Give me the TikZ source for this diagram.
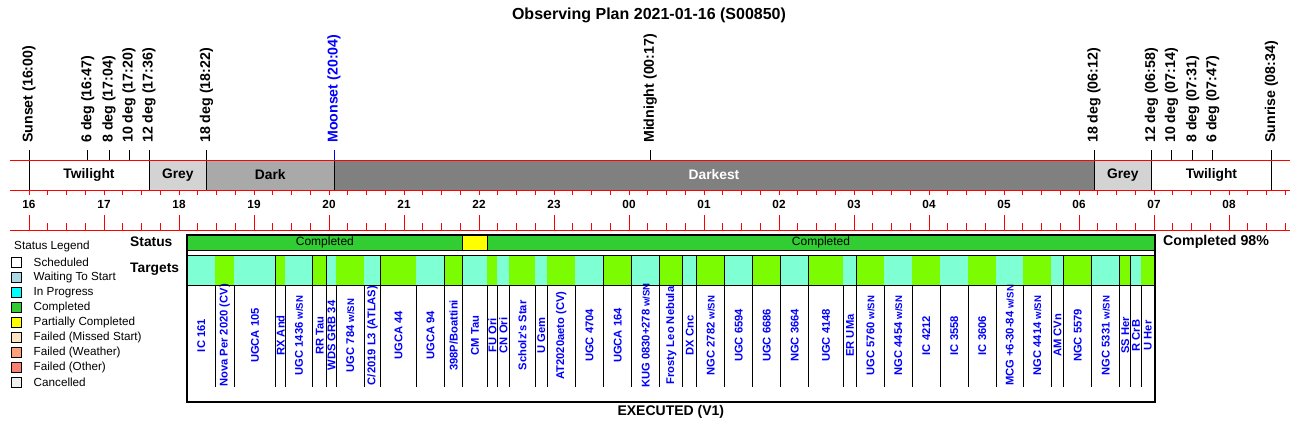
\documentclass[tikz,border=0pt]{standalone}
\usepackage{fontspec}
\setmainfont{Liberation Sans}
\definecolor{aq}{HTML}{7FFFD4}
\definecolor{lg}{HTML}{7CFC00}
\definecolor{limeg}{HTML}{32CD32}
\definecolor{greyband}{HTML}{D3D3D3}
\definecolor{darkband}{HTML}{A9A9A9}
\definecolor{darkestband}{HTML}{808080}
\definecolor{waitblue}{HTML}{ADD8E6}
\definecolor{inprog}{HTML}{00FFFF}
\definecolor{partial}{HTML}{FFFF00}
\definecolor{missed}{HTML}{FFE4C4}
\definecolor{weather}{HTML}{FFA07A}
\definecolor{otherf}{HTML}{FA8072}
\definecolor{cancel}{HTML}{F0F0F0}
\definecolor{blu}{HTML}{0000FF}
\definecolor{axisred}{HTML}{FF0000}
\newcommand\fsz[1]{\fontsize{#1}{#1}\selectfont}
\newcommand\wsn{{\fontsize{9.6}{9.6}\selectfont w/SN}}
% target column: name, x1, x2, colour, label
\newcommand\tgt[5]{%
  \fill[#4] (#2,255) rectangle (#3,285);
  \coordinate (#1sa) at (#3,255);
  \coordinate (#1sb) at (#3,386.7);
  \draw[sepline] (#1sa) -- (#1sb);
  \node[tlabel] (#1) at ({(#2+#3)/2},335.5) {#5};
}
% event: name, x, label, colour, lower end
\newcommand\evt[5]{%
  \coordinate (#1top) at (#2,150);
  \coordinate (#1bot) at (#2,#5);
  \draw[#4, line width=1pt] (#1top) -- (#1bot);
  \node[evlabel, text=#4] (#1) at (#2,143) {#3};
}
\begin{document}
\begin{tikzpicture}[x=1pt,y=-1pt,
  evlabel/.style={rotate=90, anchor=west, inner sep=0pt, font=\bfseries\fsz{14.2}},
  bandlabel/.style={inner sep=0pt, font=\bfseries\fsz{13.8}},
  hourlabel/.style={inner sep=0pt, font=\bfseries\fsz{11.8}},
  tlabel/.style={rotate=90, inner sep=0pt, text=blu, font=\bfseries\fsz{11.2}},
  sepline/.style={black, line width=1pt},
  redline/.style={axisred, line width=1pt},
  legbox/.style={draw=black, line width=0.6pt, minimum width=10.5pt, minimum height=10.5pt, inner sep=0pt},
  legtext/.style={anchor=west, inner sep=0pt, font=\fsz{11.7}},
]
\useasboundingbox (0,0) rectangle (1300,432);
\fill[white] (0,0) rectangle (1300,432);

% title
\node[inner sep=0pt, font=\bfseries\fsz{16}] (title) at (649,15) {Observing Plan 2021-01-16 (S00850)};

% night bands
\fill[greyband] (149,160) rectangle (206.5,190);
\fill[darkband] (206.5,160) rectangle (334,190);
\fill[darkestband] (334,160) rectangle (1094,190);
\fill[greyband] (1094,160) rectangle (1151.5,190);
\node[bandlabel] (tw1) at (89,175) {Twilight};
\node[bandlabel] (gr1) at (177.75,175) {Grey};
\node[bandlabel] (dk) at (270.25,175) {Dark};
\node[bandlabel, text=white] (dkst) at (714,175) {Darkest};
\node[bandlabel] (gr2) at (1122.75,175) {Grey};
\node[bandlabel] (tw2) at (1211.5,175) {Twilight};

% events
\evt{sunset}{29}{Sunset (16:00)}{black}{190}
\evt{esix}{87.75}{6 deg (16:47)}{black}{160}
\evt{eeight}{109}{8 deg (17:04)}{black}{160}
\evt{eten}{129}{10 deg (17:20)}{black}{160}
\evt{etwelve}{149}{12 deg (17:36)}{black}{190}
\evt{eeighteen}{206.5}{18 deg (18:22)}{black}{190}
\evt{moonset}{334}{Moonset (20:04)}{blu}{160}
\coordinate (moonA) at (334,160);
\coordinate (moonB) at (334,190);
\draw[black, line width=1pt] (moonA) -- (moonB);
\evt{midnight}{650.25}{Midnight (00:17)}{black}{160}
\evt{meighteen}{1094}{18 deg (06:12)}{black}{190}
\evt{mtwelve}{1151.5}{12 deg (06:58)}{black}{190}
\evt{mten}{1171.5}{10 deg (07:14)}{black}{160}
\evt{meight}{1192.75}{8 deg (07:31)}{black}{160}
\evt{msix}{1212.75}{6 deg (07:47)}{black}{160}
\evt{sunrise}{1271.5}{Sunrise (08:34)}{black}{190}

% red axes
\coordinate (ra1) at (10,160); \coordinate (rb1) at (1290,160);
\coordinate (ra2) at (10,190); \coordinate (rb2) at (1290,190);
\coordinate (ra3) at (10,230); \coordinate (rb3) at (1290,230);
\draw[redline] (ra1) -- (rb1);
\draw[redline] (ra2) -- (rb2);
\draw[redline] (ra3) -- (rb3);
\foreach \q in {0,...,67}{
  \draw[redline] ({29+18.75*\q},190) -- ({29+18.75*\q},195);
  \draw[redline] ({29+18.75*\q},223.3) -- ({29+18.75*\q},230);
}
\foreach \i/\l in {0/16,1/17,2/18,3/19,4/20,5/21,6/22,7/23,8/00,9/01,10/02,11/03,12/04,13/05,14/06,15/07,16/08}{
  \node[hourlabel] (h\i) at ({29+75*\i},204.5) {\l};
  \draw[redline] ({29+75*\i},215) -- ({29+75*\i},230);
}

% legend
\node[anchor=west, inner sep=0pt, font=\fsz{11.7}] (legtitle) at (14,246) {Status Legend};
\foreach \c/\t [count=\k from 0] in {white/Scheduled, waitblue/Waiting To Start, inprog/In Progress, limeg/Completed, partial/Partially Completed, missed/Failed (Missed Start), weather/Failed (Weather), otherf/Failed (Other), cancel/Cancelled}{
  \node[legbox, fill=\c] (lb\k) at (16.3,{262.5+15*\k}) {};
  \node[legtext] (lt\k) at (33.5,{262.5+15*\k}) {\t};
}

% row captions
\node[anchor=west, inner sep=0pt, font=\bfseries\fsz{13.8}] (statuscap) at (130,241.5) {Status};
\node[anchor=west, inner sep=0pt, font=\bfseries\fsz{13.8}] (targetcap) at (130,269.5) {Targets};
\node[anchor=west, inner sep=0pt, font=\bfseries\fsz{14.2}] (pct) at (1163,241.5) {Completed 98\%};

% status bar
\fill[limeg] (187,235) rectangle (462.7,250.7);
\fill[partial] (462.7,235) rectangle (487.3,250.7);
\fill[limeg] (487.3,235) rectangle (1155,250.7);
\coordinate (sba) at (462.7,235); \coordinate (sbb) at (462.7,250.7);
\coordinate (sbc) at (487.3,235); \coordinate (sbd) at (487.3,250.7);
\draw[black, line width=1pt] (sba) -- (sbb);
\draw[black, line width=1pt] (sbc) -- (sbd);
\coordinate (sbl) at (187,250.7); \coordinate (sbr) at (1155,250.7);
\draw[black, line width=1.2pt] (sbl) -- (sbr);
\node[inner sep=0pt, font=\fsz{12}] (st1) at (324.9,242.8) {Completed};
\node[inner sep=0pt, font=\fsz{12}] (st2) at (821,242.8) {Completed};

% targets
\tgt{t1}{187.3}{215.3}{aq}{IC 161}
\tgt{t2}{215.3}{234.3}{lg}{Nova Per 2020 (CV)}
\tgt{t3}{234.3}{275.7}{aq}{UGCA 105}
\tgt{t4}{275.7}{285.3}{lg}{RX And}
\tgt{t5}{285.3}{312.7}{aq}{UGC 1436 \wsn}
\tgt{t6}{312.7}{326.7}{lg}{RR Tau}
\tgt{t7}{326.7}{336.3}{aq}{WDS GRB 34}
\tgt{t8}{336.3}{364.3}{lg}{UGC 784 \wsn}
\tgt{t9}{364.3}{380.7}{aq}{C/2019 L3 (ATLAS)}
\tgt{t10}{380.7}{416.3}{lg}{UGCA 44}
\tgt{t11}{416.3}{444.7}{aq}{UGCA 94}
\tgt{t12}{444.7}{462.7}{lg}{398P/Boattini}
\tgt{t13}{462.7}{487.3}{aq}{CM Tau}
\tgt{t14}{487.3}{497.3}{lg}{FU Ori}
\tgt{t15}{497.3}{509.3}{aq}{CN Ori}
\tgt{t16}{509.3}{535.3}{lg}{Scholz\textquotesingle s Star}
\tgt{t17}{535.3}{547.3}{aq}{U Gem}
\tgt{t18}{547.3}{575.3}{lg}{AT2020aeto (CV)}
\tgt{t19}{575.3}{603.7}{aq}{UGC 4704}
\tgt{t20}{603.7}{631.7}{lg}{UGCA 164}
\tgt{t21}{631.7}{659.7}{aq}{KUG 0830+278 \wsn}
\tgt{t22}{659.7}{682.7}{lg}{Frosty Leo Nebula}
\tgt{t23}{682.7}{696.7}{aq}{DX Cnc}
\tgt{t24}{696.7}{724.7}{lg}{NGC 2782 \wsn}
\tgt{t25}{724.7}{752.7}{aq}{UGC 6594}
\tgt{t26}{752.7}{780.7}{lg}{UGC 6686}
\tgt{t27}{780.7}{808.7}{aq}{NGC 3664}
\tgt{t28}{808.7}{843.3}{lg}{UGC 4148}
\tgt{t29}{843.3}{856.7}{aq}{ER UMa}
\tgt{t30}{856.7}{884.3}{lg}{UGC 5760 \wsn}
\tgt{t31}{884.3}{912.3}{aq}{NGC 4454 \wsn}
\tgt{t32}{912.3}{940.3}{lg}{IC 4212}
\tgt{t33}{940.3}{968.3}{aq}{IC 3558}
\tgt{t34}{968.3}{996.3}{lg}{IC 3606}
\tgt{t35}{996.3}{1023.3}{aq}{MCG +6-30-84 \wsn}
\tgt{t36}{1023.3}{1051.3}{lg}{NGC 4414 \wsn}
\tgt{t37}{1051.3}{1063.7}{aq}{AM CVn}
\tgt{t38}{1063.7}{1091.7}{lg}{NGC 5579}
\tgt{t39}{1091.7}{1119.7}{aq}{NGC 5331 \wsn}
\tgt{t40}{1119.7}{1130.7}{lg}{SS Her}
\tgt{t41}{1130.7}{1141.3}{aq}{R CrB}
\tgt{t42}{1141.3}{1154.3}{lg}{U Her}
\coordinate (rowa) at (187,255); \coordinate (rowb) at (1155,255);
\coordinate (rowc) at (187,285); \coordinate (rowd) at (1155,285);
\draw[black, line width=1pt] (rowa) -- (rowb);
\draw[black, line width=1pt] (rowc) -- (rowd);

% frame
\draw[black, line width=2pt] (187,235) rectangle (1155,402);
\node[inner sep=0pt, font=\bfseries\fsz{14}] (exec) at (670.8,411.5) {EXECUTED (V1)};
\end{tikzpicture}
\end{document}
